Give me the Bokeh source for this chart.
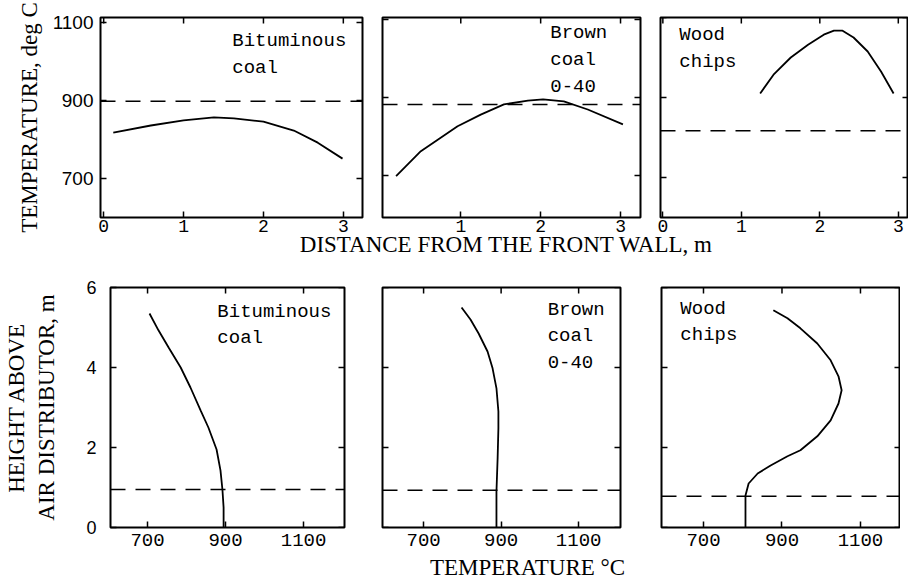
import math
from bokeh.plotting import figure
from bokeh.layouts import row, column
from bokeh.models import Span, LinearAxis, FixedTicker, Label, Range1d
from bokeh.core.properties import value
from bokeh.embed import file_html
from bokeh.resources import INLINE

# ---------------- data ----------------
fuel_labels = ["Bituminous\ncoal", "Brown\ncoal\n0-40", "Wood\nchips"]

# top row: temperature (deg C) vs distance from the front wall (m)
dist_bit = [0.12, 0.59, 1.0, 1.38, 1.63, 2.0, 2.38, 2.68, 2.99]
temp_bit = [818, 836, 849, 857, 854, 846, 823, 792, 751]
dist_brown = [0.19, 0.5, 0.96, 1.25, 1.54, 1.84, 2.03, 2.29, 2.59, 3.03]
temp_brown = [698, 762, 826, 856, 882, 892, 895, 890, 869, 831]
dist_wood = [1.24, 1.41, 1.63, 1.85, 2.05, 2.18, 2.29, 2.43, 2.61, 2.78, 2.94]
temp_wood = [910, 957, 1000, 1032, 1057, 1067, 1067, 1050, 1015, 965, 910]
bed_temp = [898, 882, 817]

# bottom row: height above air distributor (m) vs temperature (deg C)
vt_bit = [895, 895, 892, 887, 877, 856, 836, 810, 785, 754, 728, 705]
vh_bit = [0, 0.5, 0.95, 1.43, 1.95, 2.5, 2.93, 3.5, 4.0, 4.5, 4.93, 5.35]
vt_brown = [888, 888, 891, 893, 893, 888, 878, 865, 842, 821, 798]
vh_brown = [0, 0.9, 1.73, 2.48, 2.9, 3.48, 3.98, 4.4, 4.85, 5.2, 5.5]
vt_wood = [807, 807, 815, 838, 871, 914, 947, 990, 1024, 1044, 1052, 1044, 1024, 990, 947, 914, 878]
vh_wood = [0, 0.8, 1.1, 1.35, 1.55, 1.78, 1.93, 2.28, 2.68, 3.1, 3.43, 3.78, 4.18, 4.6, 4.98, 5.23, 5.43]
bed_height = [0.95, 0.93, 0.78]

dist_ticks = [0, 1, 2, 3]
temp_ticks = [700, 900, 1100]
height_ticks = [0, 2, 4, 6]

SERIF = "Liberation Serif"
MONO = "Liberation Mono"
SANS = "Liberation Sans"
DASH = "15 10"
TOTAL_W = 908


def make_fig(xr, yr, fw, fh, bl, br, bt, bb):
    p = figure(frame_width=fw, frame_height=fh,
               x_range=Range1d(*xr), y_range=Range1d(*yr),
               x_axis_type=None, y_axis_type=None,
               output_backend="svg", toolbar_location=None,
               min_border_left=bl, min_border_right=br,
               min_border_top=bt, min_border_bottom=bb)
    p.outline_line_color = "black"
    p.outline_line_width = 2
    p.background_fill_color = "white"
    p.border_fill_color = "white"
    return p


def add_axis(p, side, ticks, font, size, standoff):
    ax = LinearAxis(ticker=FixedTicker(ticks=ticks),
                    axis_line_color=None,
                    major_tick_in=6, major_tick_out=0,
                    major_tick_line_width=1.5, major_tick_line_color="black",
                    minor_tick_line_color=None,
                    major_label_standoff=standoff,
                    major_label_text_font=font,
                    major_label_text_font_size=size,
                    major_label_text_color="black")
    p.add_layout(ax, side)
    return ax


def edge_ticks(p, xticks, yticks, xr, yr, left=True):
    # inward tick marks on the unlabeled edges of the frame
    n = len(xticks)
    p.ray(x=xticks, y=[yr[1]] * n, length=6, length_units="screen",
          angle=-math.pi / 2, line_color="black", line_width=1.5)
    m = len(yticks)
    p.ray(x=[xr[1]] * m, y=yticks, length=6, length_units="screen",
          angle=math.pi, line_color="black", line_width=1.5)
    if left:
        p.ray(x=[xr[0]] * m, y=yticks, length=6, length_units="screen",
              angle=0, line_color="black", line_width=1.5)


def style_label(ax, text, standoff):
    ax.axis_label = text
    ax.axis_label_text_font = SERIF
    ax.axis_label_text_font_size = "23px"
    ax.axis_label_text_font_style = "normal"
    ax.axis_label_text_color = "black"
    ax.axis_label_standoff = standoff


def label_strip(height, overlap, text, cx, y):
    s = figure(width=TOTAL_W, height=height, x_range=Range1d(0, TOTAL_W),
               y_range=Range1d(0, height), x_axis_type=None, y_axis_type=None,
               output_backend="svg", toolbar_location=None, min_border=0,
               margin=(-overlap, 0, 0, 0))
    s.outline_line_color = None
    s.background_fill_color = None
    s.border_fill_color = None
    s.add_layout(Label(x=cx, y=y, x_units="screen", y_units="screen",
                       text=text, text_font=SERIF, text_font_size="23px",
                       text_color="black", text_align="center",
                       text_baseline="alphabetic"))
    return s


# ---------------- top row ----------------
top_specs = [
    (dist_bit, temp_bit, (-0.04, 3.24), (600, 1113), 262, 100, 10, 17, 24, (1.61, 1080)),
    (dist_brown, temp_brown, (0.02, 3.25), (592, 1105), 258, 10, 10, 15, 26, (2.12, 1093)),
    (dist_wood, temp_wood, (-0.03, 3.13), (600, 1100), 248, 10, 0, 13, 28, (0.21, 1083)),
]
top_figs = []
for i, (xs, ys, xr, yr, fw, bl, br, bt, bb, tpos) in enumerate(top_specs):
    p = make_fig(xr, yr, fw, 200, bl, br, bt, bb)
    add_axis(p, "below", dist_ticks, MONO, "18px", 2)
    if i == 0:
        yl = add_axis(p, "left", temp_ticks, SANS, "19px", 7)
        style_label(yl, "TEMPERATURE, deg C", 8)
    edge_ticks(p, dist_ticks, temp_ticks, xr, yr, left=(i != 0))
    p.line(xs, ys, line_color="black", line_width=1.8)
    p.add_layout(Span(location=bed_temp[i], dimension="width", line_color="black",
                      line_width=1.6, line_dash=DASH))
    p.text(x=[tpos[0]], y=[tpos[1]], text=[fuel_labels[i]],
           text_font=value(MONO), text_font_size="19px", text_color="black",
           text_baseline="top", text_align="left", text_line_height=1.22)
    top_figs.append(p)

# ---------------- bottom row ----------------
bot_specs = [
    (vt_bit, vh_bit, (605, 1205), 234, 110, 19, 17, 29, (879, 5.675)),
    (vt_brown, vh_brown, (594, 1208), 238, 19, 20, 15, 31, (1020, 5.725)),
    (vt_wood, vh_wood, (593, 1202), 239, 21, 0, 12, 34, (641, 5.75)),
]
bot_figs = []
for i, (xs, ys, xr, fw, bl, br, bt, bb, tpos) in enumerate(bot_specs):
    yr = (0, 6)
    p = make_fig(xr, yr, fw, 240, bl, br, bt, bb)
    add_axis(p, "below", temp_ticks, MONO, "19px", 6)
    if i == 0:
        yl = add_axis(p, "left", height_ticks, SANS, "18px", 14)
        style_label(yl, "HEIGHT ABOVE\nAIR DISTRIBUTOR, m", 24)
    edge_ticks(p, temp_ticks, height_ticks, xr, yr, left=(i != 0))
    p.line(xs, ys, line_color="black", line_width=1.8)
    p.add_layout(Span(location=bed_height[i], dimension="width", line_color="black",
                      line_width=1.6, line_dash=DASH))
    p.text(x=[tpos[0]], y=[tpos[1]], text=[fuel_labels[i]],
           text_font=value(MONO), text_font_size="19px", text_color="black",
           text_baseline="top", text_align="left", text_line_height=1.22)
    bot_figs.append(p)

strip_top = label_strip(39, 10, "DISTANCE FROM THE FRONT WALL, m", 506, 26)
strip_bot = label_strip(34, 6, "TEMPERATURE °C", 527, 17)

layout = column(row(*top_figs, spacing=0), strip_top,
                row(*bot_figs, spacing=0), strip_bot, spacing=0)

open("out.html", "w").write(file_html(layout, INLINE))
